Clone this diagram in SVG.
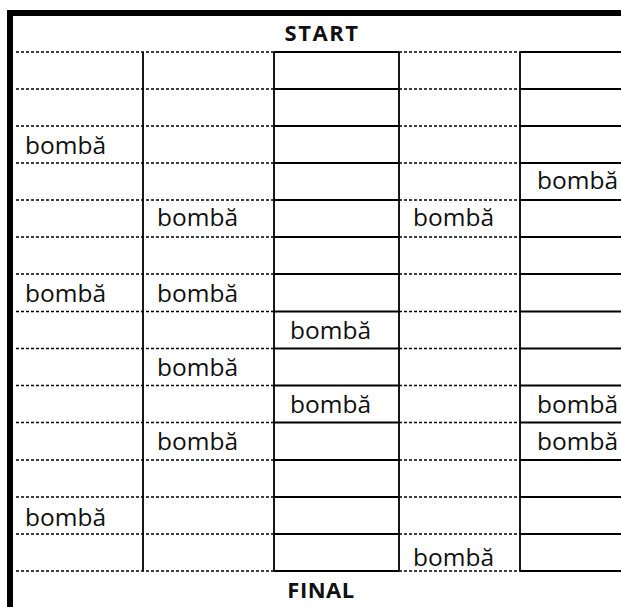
<svg xmlns="http://www.w3.org/2000/svg" width="621" height="607" viewBox="0 0 621 607">
<style>
.dash{stroke:#000;stroke-width:1.7;stroke-dasharray:3 2;fill:none}
.solid{stroke:#000;stroke-width:1.8;fill:none}
.v{stroke:#000;stroke-width:1.8;fill:none}
.t{font-family:"Open Sans","DejaVu Sans",sans-serif;font-size:24.5px;fill:#111}
.h{font-family:"Open Sans","DejaVu Sans",sans-serif;font-size:22px;font-weight:bold;fill:#111;text-anchor:middle}
</style>
<rect width="621" height="607" fill="#fff"/>
<g id="frame">
<rect x="7" y="10" width="614" height="6" fill="#000"/>
<rect x="7" y="10" width="6" height="597" fill="#000"/>
</g>
<g id="grid">
<g id="dashed">
<path class="dash" d="M16 52H274M16 89H274M16 126H274M16 163H274M16 200H274M16 237H274M16 274H274M16 311.5H274M16 348.5H274M16 385.5H274M16 422.5H274M16 460H274M16 497H274M16 534H274M16 571H274"/>
<path class="dash" d="M399 52H520M399 89H520M399 126H520M399 163H520M399 200H520M399 237H520M399 274H520M399 311.5H520M399 348.5H520M399 385.5H520M399 422.5H520M399 460H520M399 497H520M399 534H520M399 571H520"/>
</g>
<g id="solids">
<path class="solid" d="M274 52H399M274 89H399M274 126H399M274 163H399M274 200H399M274 237H399M274 274H399M274 311.5H399M274 348.5H399M274 385.5H399M274 422.5H399M274 460H399M274 497H399M274 534H399M274 571H399"/>
<path class="solid" d="M520 52H621M520 89H621M520 126H621M520 163H621M520 200H621M520 237H621M520 274H621M520 311.5H621M520 348.5H621M520 385.5H621M520 422.5H621M520 460H621M520 497H621M520 534H621M520 571H621"/>
</g>
<path class="v" d="M143 52V571M274 52V571M399 52V571M520 52V571"/>
</g>
<g id="labels">
<text class="h" x="322" y="41" letter-spacing="1.5">START</text>
<text class="h" x="321" y="598" letter-spacing="0.5">FINAL</text>
<text class="t" x="25" y="154">bombă</text>
<text class="t" x="537" y="189">bombă</text>
<text class="t" x="157" y="226">bombă</text>
<text class="t" x="413" y="226">bombă</text>
<text class="t" x="25" y="302">bombă</text>
<text class="t" x="157" y="302">bombă</text>
<text class="t" x="290" y="339">bombă</text>
<text class="t" x="157" y="376">bombă</text>
<text class="t" x="290" y="413">bombă</text>
<text class="t" x="537" y="413">bombă</text>
<text class="t" x="157" y="450">bombă</text>
<text class="t" x="537" y="450">bombă</text>
<text class="t" x="25" y="526">bombă</text>
<text class="t" x="413" y="566">bombă</text>
</g>
</svg>
